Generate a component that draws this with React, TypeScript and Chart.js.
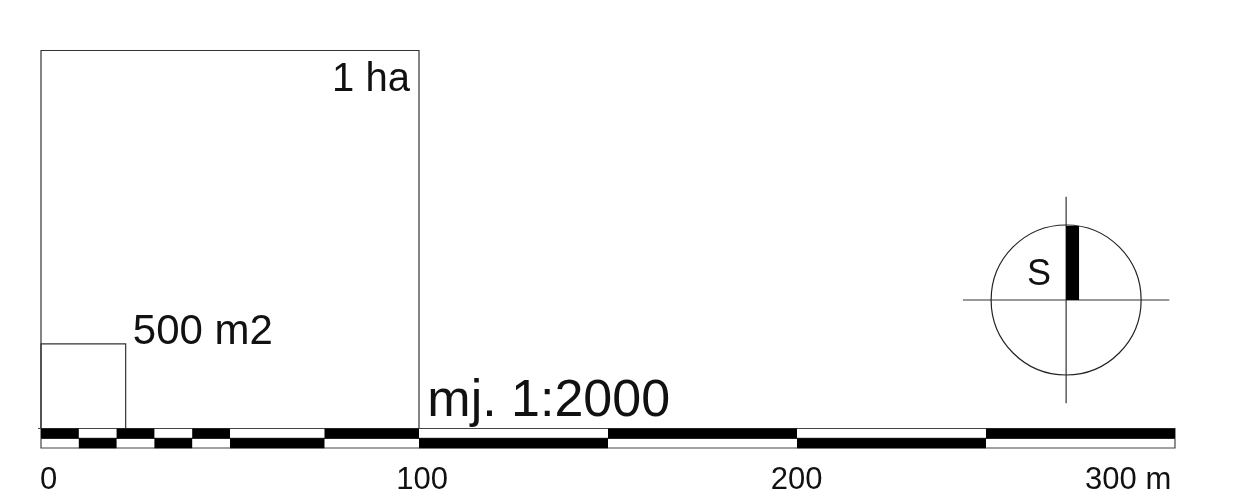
import React, { useEffect, useRef } from "react";
import { Chart, registerables } from "chart.js";

Chart.register(...registerables);

// Scale bar segments, metres
const topRowBlack: [number, number][] = [[0, 10], [20, 30], [40, 50], [75, 100], [150, 200], [250, 300]];
const bottomRowBlack: [number, number][] = [[10, 20], [30, 40], [50, 75], [100, 150], [200, 250]];
const barTop = 0;
const barMid = -2.6;
const barBottom = -5.16;
const barLength = 300;

// Reference squares: side length in metres
const hectareSide = 100;
const smallSquareSide = 22.4;

// North sign (metres on the same scales)
const compassCentre = { x: 271.2, y: 34 };
const compassArm = 27.3;
const compassBar = { x: 272.9, y0: 34, y1: 53.6 };

// Text labels
const tickTexts = ["0", "100", "200", "300 m"];
const tickX = [2.0, 100.8, 199.9, 287.6];
const tickY = -16.1;
const notes = ["1 ha", "500 m2", "mj. 1:2000", "S"];
const noteX = [97.6, 24.3, 102.2, 264];
const noteY = [89.3, 22.3, 3.3, 37.9];
const noteAlign = ["right", "left", "left", "center"];
const noteSize = [40, 42, 52, 36];

const FONT = '"Liberation Sans", Arial, sans-serif';

const toSegments = (segs: [number, number][], y: number) =>
  segs.flatMap(([a, b]) => [{ x: a, y }, { x: b, y }, { x: b, y: null as any }]);

const square = (s: number) => [
  { x: 0, y: 0 }, { x: s, y: 0 }, { x: s, y: s }, { x: 0, y: s }, { x: 0, y: 0 },
];

const textPlugin = {
  id: "textPlugin",
  afterDatasetsDraw(chart: any) {
    const { ctx, scales } = chart;
    ctx.save();
    ctx.fillStyle = "#111";
    ctx.textBaseline = "alphabetic";
    tickTexts.forEach((t, i) => {
      ctx.font = `31px ${FONT}`;
      ctx.textAlign = "center";
      ctx.fillText(t, scales.x.getPixelForValue(tickX[i]), scales.y.getPixelForValue(tickY));
    });
    notes.forEach((t, i) => {
      ctx.font = `${noteSize[i]}px ${FONT}`;
      ctx.textAlign = noteAlign[i];
      ctx.fillText(t, scales.x.getPixelForValue(noteX[i]), scales.y.getPixelForValue(noteY[i]));
    });
    ctx.restore();
  },
};

const line = (label: string, data: any[], color: string, width: number, order: number) => ({
  label,
  data,
  showLine: true,
  borderColor: color,
  backgroundColor: "transparent",
  borderWidth: width,
  pointRadius: 0,
  spanGaps: false,
  tension: 0,
  fill: false,
  order,
});

export default function App() {
  const ref = useRef<HTMLCanvasElement>(null);
  useEffect(() => {
    const chart = new Chart(ref.current as HTMLCanvasElement, {
      type: "scatter",
      data: {
        datasets: [
          line("1 ha", square(hectareSide), "#333", 1.2, 5),
          line("500 m2", square(smallSquareSide), "#333", 1.2, 5),
          line(
            "outline",
            [
              { x: -0.8, y: barTop }, { x: barLength, y: barTop }, { x: barLength, y: barBottom },
              { x: 0, y: barBottom }, { x: 0, y: barTop }, { x: 0, y: barMid }, { x: barLength, y: barMid },
            ],
            "#444", 1.2, 4,
          ),
          line("top row", toSegments(topRowBlack, -1.3), "#000", 10, 1),
          line("bottom row", toSegments(bottomRowBlack, -3.9), "#000", 10, 1),
          line("cross h", [
            { x: compassCentre.x - compassArm, y: compassCentre.y },
            { x: compassCentre.x + compassArm, y: compassCentre.y },
          ], "#333", 1.2, 3),
          line("cross v", [
            { x: compassCentre.x, y: compassCentre.y - compassArm },
            { x: compassCentre.x, y: compassCentre.y + compassArm },
          ], "#333", 1.2, 3),
          line("north bar", [
            { x: compassBar.x, y: compassBar.y0 },
            { x: compassBar.x, y: compassBar.y1 },
          ], "#000", 13, 1),
          {
            label: "circle",
            data: [compassCentre],
            pointRadius: 75,
            pointHoverRadius: 75,
            pointBorderColor: "#222",
            pointBackgroundColor: "transparent",
            pointBorderWidth: 1.2,
            order: 2,
          } as any,
        ],
      },
      options: {
        animation: false,
        responsive: false,
        devicePixelRatio: 1,
        layout: { padding: 0, autoPadding: false },
        plugins: { legend: { display: false }, tooltip: { enabled: false } },
        scales: {
          x: { type: "linear", display: false, min: -10.846, max: 316.14 },
          y: { type: "linear", display: false, min: -19.71, max: 113.36 },
        },
      },
      plugins: [textPlugin],
    } as any);
    return () => chart.destroy();
  }, []);
  return (
    <canvas
      ref={ref}
      width={1236}
      height={503}
      style={{ position: "fixed", left: 0, top: 0, width: 1236, height: 503, background: "#fff" }}
    />
  );
}
